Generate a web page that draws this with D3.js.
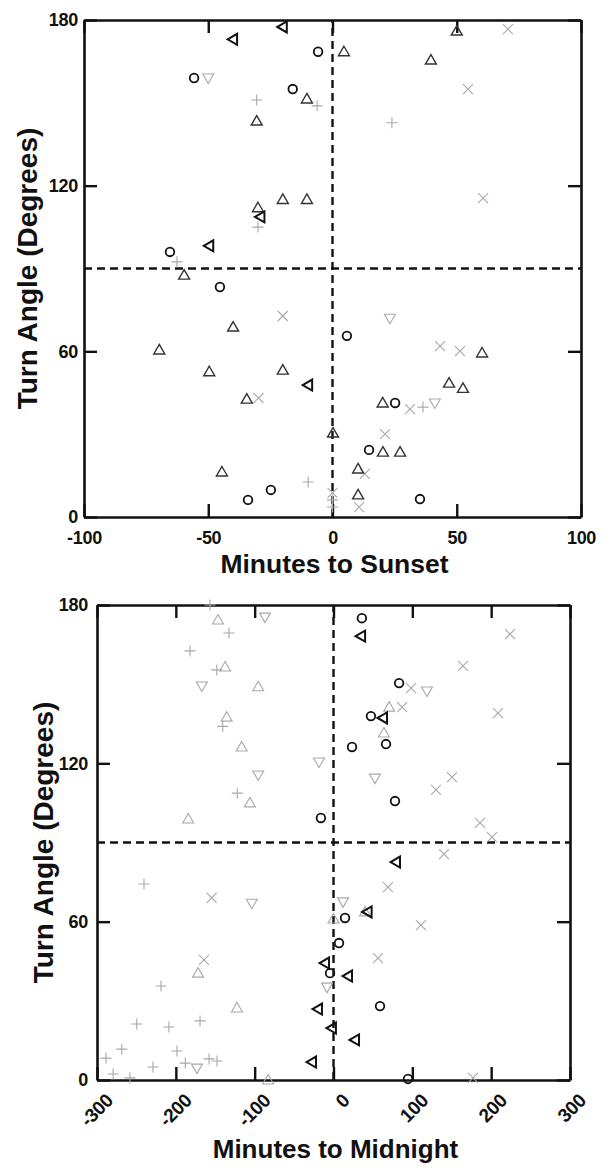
<!doctype html>
<html lang="en">
  <head>
    <meta charset="utf-8">
    <title>Turn angle scatter</title>
    <style>
      body{margin:0;background:#fff;}
      svg{display:block;}
      text{font-family:"Liberation Sans", Arial, Helvetica, sans-serif;font-weight:bold;fill:#111;}
    </style>
  </head>
  <body>
    <div class="holder"></div>
    <script src="https://cdn.jsdelivr.net/npm/d3@7/dist/d3.min.js"></script>
    <script>

      // ---- data: [minutes, turn angle] ----
      var sunsetCircle = [[-55.7,159],[-16,155],[-5.8,168.5],[-65.4,96],[-45.3,83.3],[5.8,65.6],[25.2,41.3],[14.7,24.3],[35.2,6.5],[-24.8,9.8],[-34,6.2]];
      var sunsetTriUp = [[-30.5,143.4],[-20,115],[-30,112],[-10.3,151.4],[4.6,168.5],[50,176],[39.6,165.5],[-10.3,115],[-59.7,87.6],[-40,68.8],[-69.7,60.5],[-49.6,52.6],[-20,53.2],[-34.5,42.7],[-44.5,16.3],[60.2,59.4],[46.9,48.5],[52.5,46.6],[20.2,41.3],[0.2,30.4],[20.3,23.5],[27.2,23.5],[10.3,17.4],[10.3,8]];
      var sunsetTriLeft = [[-40,173],[-20,177.5],[-29,108.7],[-49.6,98.2],[-9.8,47.8]];
      var sunsetTriDown = [[-50,159],[23.1,72],[41.2,41.3]];
      var sunsetCross = [[70.6,176.7],[54.5,155],[60.6,115.5],[-20,72.8],[-29.8,43.1],[43.3,61.9],[51.3,60.1],[31.2,39.1],[21.1,30],[10.7,3.6],[0,8.7],[13,15.6]];
      var sunsetPlus = [[-30.5,151],[-62.6,92.4],[-30,105],[-6.2,148.9],[23.9,142.8],[36.4,39.8],[-9.8,12.7],[0,6.2],[0,3.6]];

      var midCircle = [[36,175],[83.2,150.4],[47.5,137.9],[66.6,127.3],[23.5,126.2],[78,105.7],[-16,99.3],[14.6,61.4],[7,51.9],[-4.4,40.5],[59,28],[94.5,0.4]];
      var midTriLeft = [[35,168.2],[62.8,137.2],[79.3,82.6],[43.3,63.7],[-10.8,44.3],[18.4,39.4],[-19.7,26.9],[-2,19.7],[27.3,15.2],[-27.3,6.8]];
      var midTriUp = [[-146.5,174.3],[-137.5,156.5],[-135.5,137.5],[-116.5,126.2],[-106,105],[-184.3,98.9],[-95.5,149],[70.6,141.3],[64,131.5],[-171.8,40.5],[-122.5,27.3],[-82.9,0],[40,63.7],[0,61]];
      var midTriDown = [[-86.9,175.4],[-167,149.3],[-95.5,115.6],[-18.4,120.5],[52.6,114.4],[118.5,147.4],[-103.6,67],[12.1,67.5],[-8.2,35.2],[-173.2,4.5]];
      var midCross = [[224,169],[164.3,156.9],[98.4,148.5],[87,141.3],[208.7,139],[150.3,114.8],[130,109.9],[185.8,97.4],[201,92],[140.2,85.6],[69,73.1],[110.9,58.7],[56.5,46.2],[177,0.8],[-164.4,45.5],[-154.5,69]];
      var midPlus = [[-156.7,180],[-132.6,169.4],[-182,162.6],[-148,155.4],[-140.5,134],[-122,108.7],[-240.4,74.3],[-218.8,35.6],[-169.3,22.4],[-249.6,21.2],[-208.8,20.1],[-268.6,11.7],[-198.6,11],[-288.6,8.3],[-157.8,8],[-147.8,7.2],[-188,6.4],[-229,4.9],[-279.5,2.3],[-258.2,0.8]];

      var sunsetTicks = [-100, -50, 0, 50, 100];
      var midnightTicks = [-300, -200, -100, 0, 100, 200, 300];
      var angleTicks = [0, 60, 120, 180];

      // ---- drawing ----
      var svg = d3.select(".holder").append("svg")
          .attr("width", 604).attr("height", 1173);

      // marker paths centred on 0,0
      function marker(type) {
        var p = d3.path(), s;
        if (type == "circle") { p.arc(0, 0, 4.3, 0, 2 * Math.PI); }
        else if (type == "tri") { s = 5.5; p.moveTo(0, -5.5); p.lineTo(s, 4); p.lineTo(-s, 4); p.closePath(); }
        else if (type == "cross") { s = 5; p.moveTo(-s, -s); p.lineTo(s, s); p.moveTo(-s, s); p.lineTo(s, -s); }
        else if (type == "plus") { s = 5.5; p.moveTo(-s, 0); p.lineTo(s, 0); p.moveTo(0, -s); p.lineTo(0, s); }
        return p.toString();
      }

      var plain = function(d) { return String(d); };   // keep a plain hyphen for negatives

      function panel(cfg) {
        var x = d3.scaleLinear().domain(cfg.xDomain).range([cfg.left, cfg.left + cfg.w]);
        var y = d3.scaleLinear().domain([0, 180]).range([cfg.top + cfg.h, cfg.top]);
        var g = svg.append("g");

        // dashed reference lines
        g.append("line").attr("x1", x(0)).attr("x2", x(0)).attr("y1", y(0)).attr("y2", y(180))
          .attr("stroke", "#111").attr("stroke-width", 2.4).attr("stroke-dasharray", "8,5");
        g.append("line").attr("x1", x.range()[0]).attr("x2", x.range()[1]).attr("y1", y(90)).attr("y2", y(90))
          .attr("stroke", "#111").attr("stroke-width", 2.4).attr("stroke-dasharray", "8,5");

        // axes, ticks pointing inward on all four sides
        var bottom = g.append("g").attr("transform", "translate(0," + y(0) + ")")
          .call(d3.axisBottom(x).tickValues(cfg.xTicks).tickFormat(plain).tickSizeInner(-13).tickSizeOuter(0).tickPadding(14));
        g.append("g").attr("transform", "translate(0," + y(180) + ")")
          .call(d3.axisTop(x).tickValues(cfg.xTicks).tickSizeInner(-13).tickSizeOuter(0).tickFormat(""));
        g.append("g").attr("transform", "translate(" + x.range()[0] + ",0)")
          .call(d3.axisLeft(y).tickValues(angleTicks).tickFormat(plain).tickSizeInner(-13).tickSizeOuter(0).tickPadding(cfg.yPad));
        g.append("g").attr("transform", "translate(" + x.range()[1] + ",0)")
          .call(d3.axisRight(y).tickValues(angleTicks).tickSizeInner(-13).tickSizeOuter(0).tickFormat(""));

        g.selectAll(".domain").attr("stroke", "#111").attr("stroke-width", 2.6);
        g.selectAll(".tick line").attr("stroke", "#111").attr("stroke-width", 2.4);
        g.selectAll(".tick text").style("font-size", "18px").style("letter-spacing", "-0.3px").attr("fill", "#111");

        if (cfg.rotate) {
          bottom.selectAll(".tick text")
            .attr("y", 0).attr("dy", "0.35em").attr("text-anchor", "end")
            .style("font-size", "19px")
            .attr("transform", "translate(12,17) rotate(-45)");
        }

        // series
        cfg.series.forEach(function(s) {
          g.append("g").selectAll("path").data(s.data).enter().append("path")
            .attr("d", marker(s.shape))
            .attr("transform", function(d) { return "translate(" + x(d[0]) + "," + y(d[1]) + ") rotate(" + (s.rot || 0) + ")"; })
            .attr("fill", "none")
            .attr("stroke", s.color)
            .attr("stroke-width", s.width);
        });

        // titles
        g.append("text").attr("x", cfg.left + cfg.w / 2 + 2).attr("y", cfg.xTitleY)
          .attr("text-anchor", "middle").style("font-size", cfg.xTitleSize)
          .text(cfg.xTitle);
        g.append("text").attr("transform", "translate(" + cfg.yTitleX + "," + y(90) + ") rotate(-90)")
          .attr("text-anchor", "middle").style("font-size", "28px")
          .text("Turn Angle (Degrees)");
      }

      var black = "#111", dark = "#333", gray = "#a8a8a8";

      panel({
        left: 84, top: 20, w: 497, h: 497, xDomain: [-100, 100], xTicks: sunsetTicks,
        yPad: 6, xTitle: "Minutes to Sunset", xTitleY: 573, xTitleSize: "26.5px", yTitleX: 37, rotate: false,
        series: [
          {data: sunsetPlus, shape: "plus", color: gray, width: 1.1},
          {data: sunsetCross, shape: "cross", color: gray, width: 1.1},
          {data: sunsetTriDown, shape: "tri", rot: 180, color: gray, width: 1.1},
          {data: sunsetTriUp, shape: "tri", color: dark, width: 1.4},
          {data: sunsetTriLeft, shape: "tri", rot: -90, color: black, width: 2},
          {data: sunsetCircle, shape: "circle", color: black, width: 1.8}
        ]
      });

      panel({
        left: 97, top: 605, w: 473, h: 475, xDomain: [-300, 300], xTicks: midnightTicks,
        yPad: 9, xTitle: "Minutes to Midnight", xTitleY: 1158, xTitleSize: "26px", yTitleX: 53, rotate: true,
        series: [
          {data: midPlus, shape: "plus", color: gray, width: 1.1},
          {data: midCross, shape: "cross", color: gray, width: 1.1},
          {data: midTriDown, shape: "tri", rot: 180, color: gray, width: 1.1},
          {data: midTriUp, shape: "tri", color: gray, width: 1.1},
          {data: midTriLeft, shape: "tri", rot: -90, color: black, width: 2},
          {data: midCircle, shape: "circle", color: black, width: 1.8}
        ]
      });

    </script>
  </body>
</html>
